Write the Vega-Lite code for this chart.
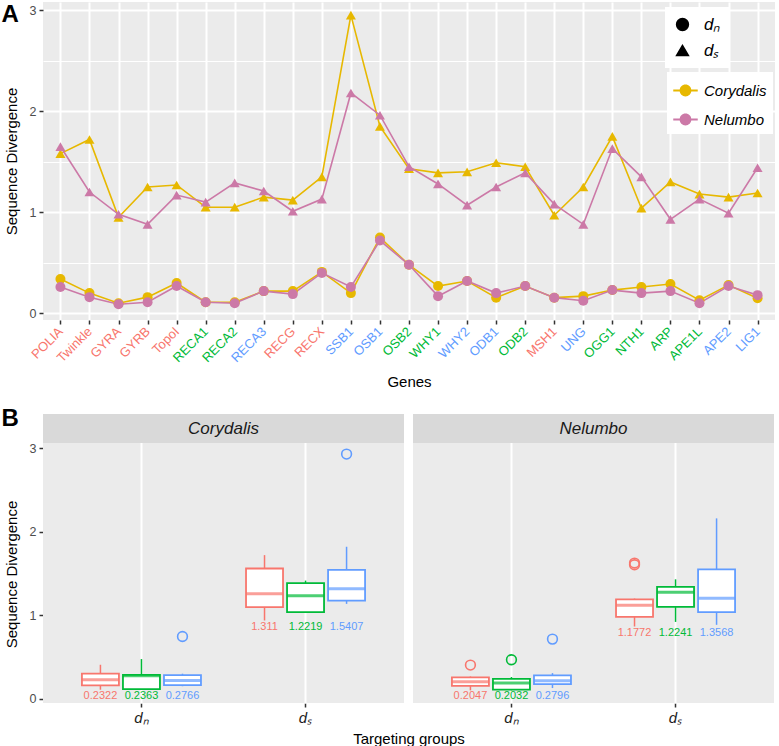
{
  "$schema": "https://vega.github.io/schema/vega-lite/v6.json",
  "padding": {"left": 1, "top": 2, "right": 4, "bottom": 2},
  "bounds": "flush",
  "config": {
    "font": "Liberation Sans",
    "view": {"fill": "#EBEBEB", "stroke": null},
    "axis": {"domain": false, "labelColor": "#4D4D4D", "labelFontSize": 12.5, "tickColor": "#333333", "tickSize": 4, "tickWidth": 1.5, "gridColor": "white", "gridWidth": 2, "titleFontWeight": "normal", "titleFontSize": 15, "titleColor": "black"}
  },
  "resolve": {"scale": {"color": "independent", "shape": "independent"}},
  "datasets": {
    "genes": [
      {"g":"POLIA","sp":"Corydalis","t":"dN","v":0.34},{"g":"Twinkle","sp":"Corydalis","t":"dN","v":0.20},{"g":"GYRA","sp":"Corydalis","t":"dN","v":0.10},{"g":"GYRB","sp":"Corydalis","t":"dN","v":0.16},{"g":"TopoI","sp":"Corydalis","t":"dN","v":0.30},
      {"g":"RECA1","sp":"Corydalis","t":"dN","v":0.11},{"g":"RECA2","sp":"Corydalis","t":"dN","v":0.11},{"g":"RECA3","sp":"Corydalis","t":"dN","v":0.22},{"g":"RECG","sp":"Corydalis","t":"dN","v":0.22},{"g":"RECX","sp":"Corydalis","t":"dN","v":0.41},
      {"g":"SSB1","sp":"Corydalis","t":"dN","v":0.20},{"g":"OSB1","sp":"Corydalis","t":"dN","v":0.75},{"g":"OSB2","sp":"Corydalis","t":"dN","v":0.48},{"g":"WHY1","sp":"Corydalis","t":"dN","v":0.27},{"g":"WHY2","sp":"Corydalis","t":"dN","v":0.32},
      {"g":"ODB1","sp":"Corydalis","t":"dN","v":0.155},{"g":"ODB2","sp":"Corydalis","t":"dN","v":0.27},{"g":"MSH1","sp":"Corydalis","t":"dN","v":0.155},{"g":"UNG","sp":"Corydalis","t":"dN","v":0.17},{"g":"OGG1","sp":"Corydalis","t":"dN","v":0.23},
      {"g":"NTH1","sp":"Corydalis","t":"dN","v":0.26},{"g":"ARP","sp":"Corydalis","t":"dN","v":0.29},{"g":"APE1L","sp":"Corydalis","t":"dN","v":0.13},{"g":"APE2","sp":"Corydalis","t":"dN","v":0.28},{"g":"LIG1","sp":"Corydalis","t":"dN","v":0.15},
      {"g":"POLIA","sp":"Corydalis","t":"dS","v":1.58},{"g":"Twinkle","sp":"Corydalis","t":"dS","v":1.72},{"g":"GYRA","sp":"Corydalis","t":"dS","v":0.95},{"g":"GYRB","sp":"Corydalis","t":"dS","v":1.25},{"g":"TopoI","sp":"Corydalis","t":"dS","v":1.27},
      {"g":"RECA1","sp":"Corydalis","t":"dS","v":1.05},{"g":"RECA2","sp":"Corydalis","t":"dS","v":1.05},{"g":"RECA3","sp":"Corydalis","t":"dS","v":1.15},{"g":"RECG","sp":"Corydalis","t":"dS","v":1.12},{"g":"RECX","sp":"Corydalis","t":"dS","v":1.35},
      {"g":"SSB1","sp":"Corydalis","t":"dS","v":2.95},{"g":"OSB1","sp":"Corydalis","t":"dS","v":1.85},{"g":"OSB2","sp":"Corydalis","t":"dS","v":1.43},{"g":"WHY1","sp":"Corydalis","t":"dS","v":1.39},{"g":"WHY2","sp":"Corydalis","t":"dS","v":1.40},
      {"g":"ODB1","sp":"Corydalis","t":"dS","v":1.49},{"g":"ODB2","sp":"Corydalis","t":"dS","v":1.45},{"g":"MSH1","sp":"Corydalis","t":"dS","v":0.97},{"g":"UNG","sp":"Corydalis","t":"dS","v":1.25},{"g":"OGG1","sp":"Corydalis","t":"dS","v":1.75},
      {"g":"NTH1","sp":"Corydalis","t":"dS","v":1.04},{"g":"ARP","sp":"Corydalis","t":"dS","v":1.30},{"g":"APE1L","sp":"Corydalis","t":"dS","v":1.18},{"g":"APE2","sp":"Corydalis","t":"dS","v":1.15},{"g":"LIG1","sp":"Corydalis","t":"dS","v":1.19},
      {"g":"POLIA","sp":"Nelumbo","t":"dN","v":0.26},{"g":"Twinkle","sp":"Nelumbo","t":"dN","v":0.16},{"g":"GYRA","sp":"Nelumbo","t":"dN","v":0.09},{"g":"GYRB","sp":"Nelumbo","t":"dN","v":0.11},{"g":"TopoI","sp":"Nelumbo","t":"dN","v":0.27},
      {"g":"RECA1","sp":"Nelumbo","t":"dN","v":0.11},{"g":"RECA2","sp":"Nelumbo","t":"dN","v":0.10},{"g":"RECA3","sp":"Nelumbo","t":"dN","v":0.22},{"g":"RECG","sp":"Nelumbo","t":"dN","v":0.19},{"g":"RECX","sp":"Nelumbo","t":"dN","v":0.40},
      {"g":"SSB1","sp":"Nelumbo","t":"dN","v":0.26},{"g":"OSB1","sp":"Nelumbo","t":"dN","v":0.72},{"g":"OSB2","sp":"Nelumbo","t":"dN","v":0.48},{"g":"WHY1","sp":"Nelumbo","t":"dN","v":0.17},{"g":"WHY2","sp":"Nelumbo","t":"dN","v":0.32},
      {"g":"ODB1","sp":"Nelumbo","t":"dN","v":0.20},{"g":"ODB2","sp":"Nelumbo","t":"dN","v":0.27},{"g":"MSH1","sp":"Nelumbo","t":"dN","v":0.155},{"g":"UNG","sp":"Nelumbo","t":"dN","v":0.125},{"g":"OGG1","sp":"Nelumbo","t":"dN","v":0.23},
      {"g":"NTH1","sp":"Nelumbo","t":"dN","v":0.20},{"g":"ARP","sp":"Nelumbo","t":"dN","v":0.22},{"g":"APE1L","sp":"Nelumbo","t":"dN","v":0.10},{"g":"APE2","sp":"Nelumbo","t":"dN","v":0.27},{"g":"LIG1","sp":"Nelumbo","t":"dN","v":0.18},
      {"g":"POLIA","sp":"Nelumbo","t":"dS","v":1.65},{"g":"Twinkle","sp":"Nelumbo","t":"dS","v":1.20},{"g":"GYRA","sp":"Nelumbo","t":"dS","v":0.98},{"g":"GYRB","sp":"Nelumbo","t":"dS","v":0.88},{"g":"TopoI","sp":"Nelumbo","t":"dS","v":1.17},
      {"g":"RECA1","sp":"Nelumbo","t":"dS","v":1.10},{"g":"RECA2","sp":"Nelumbo","t":"dS","v":1.29},{"g":"RECA3","sp":"Nelumbo","t":"dS","v":1.21},{"g":"RECG","sp":"Nelumbo","t":"dS","v":1.01},{"g":"RECX","sp":"Nelumbo","t":"dS","v":1.13},
      {"g":"SSB1","sp":"Nelumbo","t":"dS","v":2.18},{"g":"OSB1","sp":"Nelumbo","t":"dS","v":1.96},{"g":"OSB2","sp":"Nelumbo","t":"dS","v":1.45},{"g":"WHY1","sp":"Nelumbo","t":"dS","v":1.28},{"g":"WHY2","sp":"Nelumbo","t":"dS","v":1.07},
      {"g":"ODB1","sp":"Nelumbo","t":"dS","v":1.25},{"g":"ODB2","sp":"Nelumbo","t":"dS","v":1.39},{"g":"MSH1","sp":"Nelumbo","t":"dS","v":1.08},{"g":"UNG","sp":"Nelumbo","t":"dS","v":0.88},{"g":"OGG1","sp":"Nelumbo","t":"dS","v":1.63},
      {"g":"NTH1","sp":"Nelumbo","t":"dS","v":1.35},{"g":"ARP","sp":"Nelumbo","t":"dS","v":0.93},{"g":"APE1L","sp":"Nelumbo","t":"dS","v":1.13},{"g":"APE2","sp":"Nelumbo","t":"dS","v":0.99},{"g":"LIG1","sp":"Nelumbo","t":"dS","v":1.44}
    ],
    "box": [
      {"kind":"strip","sp":"Corydalis"},{"kind":"strip","sp":"Nelumbo"},
      {"kind":"box","sp":"Corydalis","t":"dN","grp":"G1","lo":0.108,"q1":0.16,"med":0.227,"q3":0.30,"hi":0.407},
      {"kind":"box","sp":"Corydalis","t":"dN","grp":"G2","lo":0.11,"q1":0.116,"med":0.275,"q3":0.287,"hi":0.475},
      {"kind":"box","sp":"Corydalis","t":"dN","grp":"G3","lo":0.15,"q1":0.164,"med":0.219,"q3":0.283,"hi":0.30},
      {"kind":"box","sp":"Corydalis","t":"dS","grp":"G1","lo":0.937,"q1":1.097,"med":1.256,"q3":1.56,"hi":1.72},
      {"kind":"box","sp":"Corydalis","t":"dS","grp":"G2","lo":1.03,"q1":1.037,"med":1.232,"q3":1.384,"hi":1.415},
      {"kind":"box","sp":"Corydalis","t":"dS","grp":"G3","lo":1.136,"q1":1.176,"med":1.316,"q3":1.543,"hi":1.82},
      {"kind":"box","sp":"Nelumbo","t":"dN","grp":"G1","lo":0.10,"q1":0.155,"med":0.203,"q3":0.255,"hi":0.267},
      {"kind":"box","sp":"Nelumbo","t":"dN","grp":"G2","lo":0.10,"q1":0.108,"med":0.188,"q3":0.239,"hi":0.26},
      {"kind":"box","sp":"Nelumbo","t":"dN","grp":"G3","lo":0.128,"q1":0.176,"med":0.215,"q3":0.279,"hi":0.307},
      {"kind":"box","sp":"Nelumbo","t":"dS","grp":"G1","lo":0.865,"q1":0.98,"med":1.12,"q3":1.19,"hi":1.20},
      {"kind":"box","sp":"Nelumbo","t":"dS","grp":"G2","lo":0.92,"q1":1.10,"med":1.276,"q3":1.34,"hi":1.43},
      {"kind":"box","sp":"Nelumbo","t":"dS","grp":"G3","lo":0.885,"q1":1.037,"med":1.204,"q3":1.55,"hi":2.16},
      {"kind":"out","sp":"Corydalis","t":"dN","grp":"G3","v":0.745},
      {"kind":"out","sp":"Corydalis","t":"dS","grp":"G3","v":2.93},
      {"kind":"out","sp":"Nelumbo","t":"dN","grp":"G1","v":0.403},
      {"kind":"out","sp":"Nelumbo","t":"dN","grp":"G2","v":0.467},
      {"kind":"out","sp":"Nelumbo","t":"dN","grp":"G3","v":0.714},
      {"kind":"out","sp":"Nelumbo","t":"dS","grp":"G1","v":1.605},
      {"kind":"out","sp":"Nelumbo","t":"dS","grp":"G1","v":1.625},
      {"kind":"lab","sp":"Corydalis","t":"dN","grp":"G1","lab":"0.2322","ly":0.03},
      {"kind":"lab","sp":"Corydalis","t":"dN","grp":"G2","lab":"0.2363","ly":0.03},
      {"kind":"lab","sp":"Corydalis","t":"dN","grp":"G3","lab":"0.2766","ly":0.03},
      {"kind":"lab","sp":"Corydalis","t":"dS","grp":"G1","lab":"1.311","ly":0.865},
      {"kind":"lab","sp":"Corydalis","t":"dS","grp":"G2","lab":"1.2219","ly":0.865},
      {"kind":"lab","sp":"Corydalis","t":"dS","grp":"G3","lab":"1.5407","ly":0.865},
      {"kind":"lab","sp":"Nelumbo","t":"dN","grp":"G1","lab":"0.2047","ly":0.035},
      {"kind":"lab","sp":"Nelumbo","t":"dN","grp":"G2","lab":"0.2032","ly":0.035},
      {"kind":"lab","sp":"Nelumbo","t":"dN","grp":"G3","lab":"0.2796","ly":0.035},
      {"kind":"lab","sp":"Nelumbo","t":"dS","grp":"G1","lab":"1.1772","ly":0.79},
      {"kind":"lab","sp":"Nelumbo","t":"dS","grp":"G2","lab":"1.2241","ly":0.79},
      {"kind":"lab","sp":"Nelumbo","t":"dS","grp":"G3","lab":"1.3568","ly":0.79}
    ]
  },
  "vconcat": [
    {
      "width": 732,
      "height": 318,
      "data": {"name": "genes"},
      "encoding": {
        "x": {"field": "g", "type": "nominal", "title": "Genes",
          "scale": {"type": "point", "padding": 0.6, "domain": ["POLIA","Twinkle","GYRA","GYRB","TopoI","RECA1","RECA2","RECA3","RECG","RECX","SSB1","OSB1","OSB2","WHY1","WHY2","ODB1","ODB2","MSH1","UNG","OGG1","NTH1","ARP","APE1L","APE2","LIG1"]},
          "axis": {"labelAngle": -45, "labelAlign": "right", "labelBaseline": "middle", "labelFontSize": 13, "labelPadding": 5, "grid": true, "titlePadding": 10,
            "labelColor": {"condition": [
              {"test": "indexof(['POLIA','Twinkle','GYRA','GYRB','TopoI','RECG','RECX','MSH1'], datum.value) >= 0", "value": "#F8766D"},
              {"test": "indexof(['RECA1','RECA2','OSB2','WHY1','ODB2','OGG1','NTH1','ARP','APE1L'], datum.value) >= 0", "value": "#00BA38"}
            ], "value": "#619CFF"}}},
        "y": {"field": "v", "type": "quantitative", "title": "Sequence Divergence",
          "scale": {"domain": [-0.066, 3.08], "nice": false, "zero": false},
          "axis": {"values": [0, 0.5, 1, 1.5, 2, 2.5, 3], "labelExpr": "datum.value % 1 == 0 ? format(datum.value, 'd') : ''", "titlePadding": 10, "labelPadding": 3,
            "tickColor": {"condition": {"test": "datum.value % 1 != 0", "value": "transparent"}, "value": "#333333"},
            "gridWidth": {"condition": {"test": "datum.value % 1 != 0", "value": 1}, "value": 2}}}
      },
      "layer": [
        {
          "mark": {"type": "line", "strokeWidth": 1.6},
          "encoding": {
            "detail": {"field": "t", "type": "nominal"},
            "color": {"field": "sp", "type": "nominal", "scale": {"domain": ["Corydalis", "Nelumbo"], "range": ["#E7B800", "#CC79A7"]},
              "legend": {"orient": "none", "legendX": 624, "legendY": 70, "title": null, "fillColor": "white", "padding": 6, "rowPadding": 8,
                "symbolType": "M-1,-0.08L1,-0.08L1,0.08L-1,0.08Z M0.48,0A0.48,0.48 0 1 1 -0.48,0A0.48,0.48 0 1 1 0.48,0Z",
                "symbolSize": 600, "symbolStrokeWidth": 0, "labelFontSize": 15, "labelFontStyle": "italic", "labelColor": "black", "labelOffset": 6}}
          }
        },
        {
          "mark": {"type": "point", "filled": true, "opacity": 1, "size": 100},
          "encoding": {
            "color": {"field": "sp", "type": "nominal", "scale": {"domain": ["Corydalis", "Nelumbo"], "range": ["#E7B800", "#CC79A7"]},
              "legend": {"orient": "none", "legendX": 624, "legendY": 70, "title": null, "fillColor": "white", "padding": 6, "rowPadding": 8,
                "symbolType": "M-1,-0.08L1,-0.08L1,0.08L-1,0.08Z M0.48,0A0.48,0.48 0 1 1 -0.48,0A0.48,0.48 0 1 1 0.48,0Z",
                "symbolSize": 600, "symbolStrokeWidth": 0, "labelFontSize": 15, "labelFontStyle": "italic", "labelColor": "black", "labelOffset": 6}},
            "shape": {"field": "t", "type": "nominal", "scale": {"domain": ["dN", "dS"], "range": ["circle", "triangle-up"]},
              "legend": {"orient": "none", "legendX": 622, "legendY": 5, "title": null, "fillColor": "white", "padding": 9, "rowPadding": 7,
                "symbolFillColor": "black", "symbolStrokeColor": "black", "symbolSize": 140, "labelFontSize": 17, "labelFontStyle": "italic", "labelColor": "black", "labelOffset": 13,
                "labelExpr": "datum.value == 'dN' ? 'dₙ' : 'dₛ'"}}
          }
        },
        {
          "data": {"values": [{"lab": "A", "pos": 3.08}, {"lab": "B", "pos": -0.92}]},
          "mark": {"type": "text", "align": "left", "baseline": "alphabetic", "fontSize": 24, "fontWeight": "bold", "color": "black", "dx": -59, "dy": 20},
          "encoding": {
            "x": {"datum": "POLIA", "type": "nominal"},
            "y": {"field": "pos", "type": "quantitative"},
            "text": {"field": "lab"}
          }
        }
      ]
    },
    {
      "data": {"name": "box"},
      "facet": {"column": {"field": "sp", "type": "nominal", "sort": ["Corydalis", "Nelumbo"],
        "header": {"labelExpr": "''", "labelOrient": "bottom", "labelPadding": 0, "labelFontSize": 2, "title": "Targeting groups", "titleOrient": "bottom", "titleFontSize": 15, "titleFontWeight": "normal", "titleColor": "black", "titlePadding": -5}}},
      "spacing": 9,
      "spec": {
        "width": 361,
        "height": 289,
        "layer": [
          {
            "transform": [{"filter": "datum.kind == 'strip'"}],
            "mark": {"type": "rect", "color": "#D9D9D9"},
            "encoding": {
              "y": {"datum": 3.063, "type": "quantitative", "title": "Sequence Divergence",
                "scale": {"domain": [-0.051, 3.41], "nice": false, "zero": false},
                "axis": {"values": [0, 0.5, 1, 1.5, 2, 2.5, 3], "labelExpr": "datum.value % 1 == 0 ? format(datum.value, 'd') : ''", "titlePadding": 10, "labelPadding": 3, "titleY": 160,
                  "tickColor": {"condition": {"test": "datum.value % 1 != 0", "value": "transparent"}, "value": "#333333"},
                  "gridWidth": {"condition": {"test": "datum.value % 1 != 0", "value": 1}, "value": 2}}},
              "y2": {"datum": 3.41}
            }
          },
          {
            "transform": [{"filter": "datum.kind == 'strip'"}],
            "mark": {"type": "text", "fontSize": 17, "fontStyle": "italic", "color": "#1A1A1A", "baseline": "middle"},
            "encoding": {
              "y": {"datum": 3.236, "type": "quantitative", "title": "Sequence Divergence"},
              "text": {"field": "sp"}
            }
          },
          {
            "transform": [{"filter": "datum.kind == 'box'"}],
            "mark": {"type": "rule", "strokeWidth": 1.5},
            "encoding": {
              "x": {"field": "t", "type": "nominal", "title": null, "scale": {"domain": ["dN", "dS"], "paddingInner": 0.25, "paddingOuter": 0.225},
                "axis": {"grid": true, "bandPosition": 0.5, "labelAngle": 0, "labelFontSize": 15, "labelFontStyle": "italic", "labelColor": "#1A1A1A", "labelPadding": 3,
                  "labelExpr": "datum.value == 'dN' ? 'dₙ' : 'dₛ'"}},
              "xOffset": {"field": "grp", "type": "nominal", "scale": {"domain": ["G1", "G2", "G3"]}},
              "y": {"field": "lo", "type": "quantitative", "title": "Sequence Divergence"},
              "y2": {"field": "hi"},
              "color": {"field": "grp", "type": "nominal", "scale": {"domain": ["G1", "G2", "G3"], "range": ["#F8766D", "#00BA38", "#619CFF"]}, "legend": null}
            }
          },
          {
            "transform": [{"filter": "datum.kind == 'box'"}],
            "mark": {"type": "bar", "fill": "white", "strokeWidth": 1.8, "width": 37},
            "encoding": {
              "x": {"field": "t", "type": "nominal", "title": null},
              "xOffset": {"field": "grp", "type": "nominal"},
              "y": {"field": "q1", "type": "quantitative", "title": "Sequence Divergence"},
              "y2": {"field": "q3"},
              "stroke": {"field": "grp", "type": "nominal", "scale": {"domain": ["G1", "G2", "G3"], "range": ["#F8766D", "#00BA38", "#619CFF"]}, "legend": null}
            }
          },
          {
            "transform": [{"filter": "datum.kind == 'box'"}],
            "mark": {"type": "tick", "size": 37, "thickness": 3},
            "encoding": {
              "x": {"field": "t", "type": "nominal", "title": null},
              "xOffset": {"field": "grp", "type": "nominal"},
              "y": {"field": "med", "type": "quantitative", "title": "Sequence Divergence"},
              "color": {"field": "grp", "type": "nominal", "legend": null}
            }
          },
          {
            "transform": [{"filter": "datum.kind == 'out'"}],
            "mark": {"type": "point", "filled": false, "size": 95, "strokeWidth": 1.6, "opacity": 1},
            "encoding": {
              "x": {"field": "t", "type": "nominal", "title": null},
              "xOffset": {"field": "grp", "type": "nominal"},
              "y": {"field": "v", "type": "quantitative", "title": "Sequence Divergence"},
              "color": {"field": "grp", "type": "nominal", "legend": null}
            }
          },
          {
            "transform": [{"filter": "datum.kind == 'lab'"}],
            "mark": {"type": "text", "fontSize": 11, "baseline": "middle"},
            "encoding": {
              "x": {"field": "t", "type": "nominal", "title": null},
              "xOffset": {"field": "grp", "type": "nominal"},
              "y": {"field": "ly", "type": "quantitative", "title": "Sequence Divergence"},
              "text": {"field": "lab"},
              "color": {"field": "grp", "type": "nominal", "legend": null}
            }
          }
        ]
      }
    }
  ],
  "spacing": 94
}
